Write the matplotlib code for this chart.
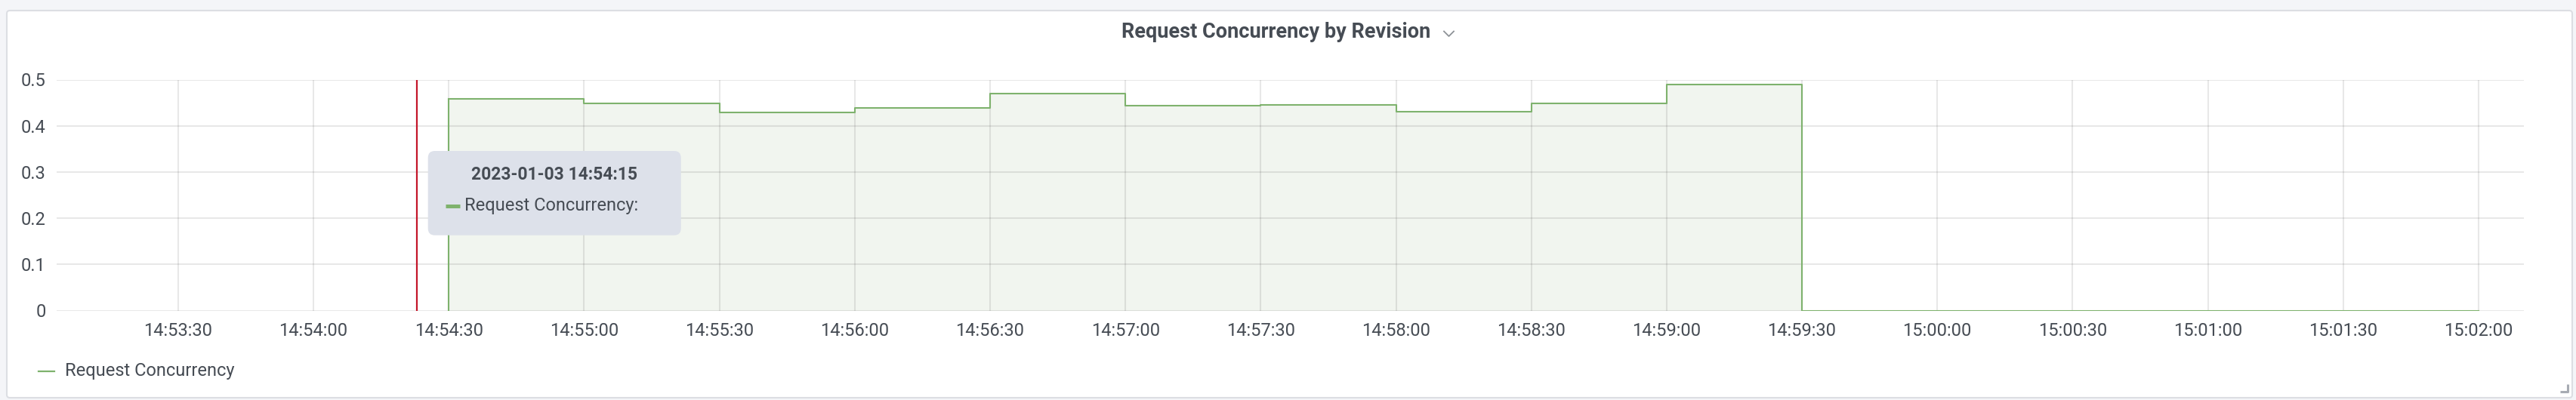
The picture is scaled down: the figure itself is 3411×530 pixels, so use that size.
import datetime as dt
import matplotlib
matplotlib.use("Agg")
import matplotlib.pyplot as plt
import matplotlib.dates as mdates
from matplotlib.patches import FancyBboxPatch
from matplotlib.lines import Line2D

plt.rcParams['font.family'] = ['Roboto', 'DejaVu Sans']

# data (30 s samples)
times = ['14:54:30', '14:55:00', '14:55:30', '14:56:00', '14:56:30', '14:57:00',
         '14:57:30', '14:58:00', '14:58:30', '14:59:00', '14:59:30', '15:00:00',
         '15:00:30', '15:01:00', '15:01:30', '15:02:00']
concurrency = [0.458, 0.449, 0.429, 0.438, 0.469, 0.443,
               0.445, 0.431, 0.449, 0.490, 0.0, 0.0,
               0.0, 0.0, 0.0, 0.0]
yticks = [0, 0.1, 0.2, 0.3, 0.4, 0.5]
cursor_time = '14:54:23'
x_start, x_end = '14:53:03', '15:02:10'
tooltip_title = '2023-01-03 14:54:15'
series_name = 'Request Concurrency'
panel_title = 'Request Concurrency by Revision'


def to_dt(s):
    return dt.datetime.strptime('2023-01-03 ' + s, '%Y-%m-%d %H:%M:%S')


x = [to_dt(s) for s in times]

W, H = 3412, 530
green = '#7eb26d'
text_col = '#464c54'

fig = plt.figure(figsize=(W / 100, H / 100), dpi=100)
fig.patch.set_facecolor('#f4f5f8')


def px(xp, yp):
    # pixel (top-left origin) -> inches for dpi_scale_trans
    return xp / 100, (H - yp) / 100


# panel background
x0, y0 = px(9, 527)
panel = FancyBboxPatch((x0, y0), (3406 - 9) / 100, (527 - 14) / 100,
                       boxstyle='round,pad=0,rounding_size=0.04',
                       transform=fig.dpi_scale_trans, facecolor='white',
                       edgecolor='#dcdee3', lw=1.5, zorder=-1)
fig.patches.append(panel)

ax = fig.add_axes([74.6 / W, (H - 411.5) / H, (3341.7 - 74.6) / W, 306 / H])
ax.set_facecolor('none')

ax.fill_between(x, concurrency, step='post', color='#f1f5ef', lw=0, zorder=1)
ax.step(x, concurrency, where='post', color=green, lw=1.5, zorder=3)
ax.vlines(x[0], 0, concurrency[0], color=green, lw=1.5, zorder=3)
ax.axvline(to_dt(cursor_time), color='#c4162a', lw=1.6, zorder=4)

ax.set_xlim(to_dt(x_start), to_dt(x_end))
ax.set_ylim(0, 0.5)
ax.set_yticks(yticks)
ax.set_yticklabels(['0' if v == 0 else '%.1f' % v for v in yticks])
ax.xaxis.set_major_locator(mdates.SecondLocator(bysecond=[0, 30]))
ax.xaxis.set_major_formatter(mdates.DateFormatter('%H:%M:%S'))

ax.set_axisbelow(False)
ax.grid(True, color='black', alpha=0.09, lw=1.5, zorder=2)
for s in ax.spines.values():
    s.set_visible(False)
ax.tick_params(length=0, labelsize=17, labelcolor=text_col)
ax.tick_params(axis='x', pad=11)
ax.tick_params(axis='y', pad=10)

# title with chevron
fig.text(1690 / W, 1 - 42 / H, panel_title, ha='center', va='center',
         fontsize=19.5, fontweight=600, color=text_col)
fig.add_artist(Line2D([1912 / W, 1918.5 / W, 1925 / W],
                      [1 - 41.5 / H, 1 - 48 / H, 1 - 41.5 / H],
                      transform=fig.transFigure, color='#8e9297', lw=1.3))

# legend
fig.add_artist(Line2D([51 / W, 71.5 / W], [1 - 491.5 / H, 1 - 491.5 / H],
                      transform=fig.transFigure, color=green, lw=1.6))
fig.text(86 / W, 1 - 491.5 / H, series_name, ha='left', va='center',
         fontsize=17, color=text_col)

# tooltip
r = 0.09
bx, by = px(566.7, 311.7)
tip = FancyBboxPatch((bx + r, by + r), (901.7 - 566.7) / 100 - 2 * r,
                     (311.7 - 200) / 100 - 2 * r,
                     boxstyle='round,pad=%g,rounding_size=%g' % (r, r),
                     transform=fig.dpi_scale_trans, facecolor='#dde1ea',
                     edgecolor='none', zorder=10)
fig.patches.append(tip)
fig.text(733.8 / W, 1 - 231.7 / H, tooltip_title, ha='center', va='center',
         fontsize=16.5, fontweight='bold', color=text_col, zorder=11)
fig.add_artist(Line2D([590 / W, 609 / W], [1 - 272.7 / H, 1 - 272.7 / H],
                      transform=fig.transFigure, color=green, lw=3.6,
                      solid_capstyle='butt', zorder=11))
fig.text(615 / W, 1 - 273 / H, series_name + ':', ha='left', va='center',
         fontsize=17, color=text_col, zorder=11)

# resize handle
fig.add_artist(Line2D([3390 / W, 3400 / W, 3400 / W],
                      [1 - 519 / H, 1 - 519 / H, 1 - 509 / H],
                      transform=fig.transFigure, color='#a7abb3', lw=2.2,
                      solid_capstyle='butt'))

fig.savefig('out.png', dpi=100, facecolor=fig.get_facecolor())
